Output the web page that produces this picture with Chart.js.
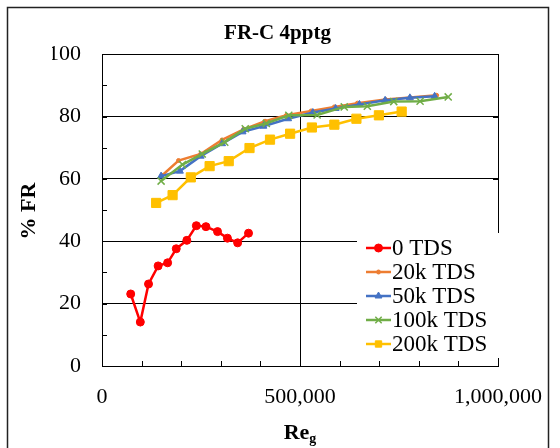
<!DOCTYPE html>
<html>
<head>
<meta charset="utf-8">
<script src="https://cdn.jsdelivr.net/npm/chart.js@4.4.1/dist/chart.umd.min.js"></script>
<style>
  html, body { margin: 0; padding: 0; background: #fff; }
</style>
</head>
<body>
<canvas id="myChart" width="560" height="448"></canvas>
<script>
// Reynolds number (x) and % FR (y) for each TDS level
const re0   = [72500, 96750, 117500, 141750, 165750, 187500, 214250, 238250, 262500, 291750, 316750, 342500, 370000];
const fr0   = [23.1, 14.1, 26.3, 32.1, 33.1, 37.6, 40.3, 45.0, 44.7, 43.1, 41.0, 39.5, 42.6];
const re20  = [151750, 193250, 249250, 303250, 357500, 411750, 465750, 528250, 586750, 645000, 715750, 778250, 845000];
const fr20  = [61.1, 65.9, 68.0, 72.5, 75.9, 78.5, 80.4, 81.8, 83.1, 84.3, 85.5, 86.1, 86.8];
const re50  = [149250, 196750, 249250, 303250, 355000, 407500, 470000, 532500, 590000, 650000, 715000, 777500, 840000];
const fr50  = [60.9, 62.5, 67.3, 71.3, 75.1, 76.9, 79.3, 81.3, 82.6, 83.9, 85.2, 86.0, 86.5];
const re100 = [149250, 203250, 253250, 310000, 361750, 415000, 471750, 543250, 611750, 670000, 736750, 803250, 874250];
const fr100 = [59.3, 64.6, 68.0, 71.8, 76.1, 77.8, 80.4, 80.5, 83.1, 83.3, 84.8, 84.9, 86.3];
const re200 = [136750, 178250, 224250, 271750, 320000, 372500, 424250, 475000, 530000, 586750, 642500, 699250, 756750];
const fr200 = [52.3, 54.8, 60.5, 64.1, 65.7, 69.9, 72.6, 74.5, 76.5, 77.4, 79.3, 80.4, 81.6];

const seriesNames = ['0 TDS', '20k TDS', '50k TDS', '100k TDS', '200k TDS'];
const xTicks = [0, 500000, 1000000];
const yTicks = [0, 20, 40, 60, 80, 100];

const FONT = "'Liberation Serif', 'Times New Roman', serif";

function pts(xs, ys) {
  return xs.map((x, i) => ({ x: x, y: ys[i] }));
}

function series(i, xs, ys, color, style, radius) {
  return {
    label: seriesNames[i],
    data: pts(xs, ys),
    borderColor: color,
    backgroundColor: color,
    borderWidth: 2.5,
    pointStyle: style,
    pointRadius: radius,
    pointBorderWidth: style === 'crossRot' ? 1.5 : 1,
    order: 4 - i
  };
}

// legend, frame, inward tick marks, axis titles
const decor = {
  id: 'decor',
  beforeDraw(chart) {
    const c = chart.ctx;
    c.save();
    c.fillStyle = '#fff';
    c.fillRect(0, 0, chart.width, chart.height);
    c.restore();
  },
  afterDraw(chart) {
    const c = chart.ctx;
    const a = chart.chartArea;
    const xs = chart.scales.x, ys = chart.scales.y;
    c.save();

    // outer frame
    c.strokeStyle = '#222';
    c.lineWidth = 1.5;
    c.strokeRect(7.5, 7.5, 541, 470);

    // plot box
    c.strokeStyle = '#000';
    c.lineWidth = 1;
    c.strokeRect(Math.round(a.left) + 0.5, Math.round(a.top) + 0.5,
                 Math.round(a.right - a.left), Math.round(a.bottom - a.top));

    // inward ticks
    c.beginPath();
    for (let v = 100000; v < 1000000; v += 100000) {
      const px = Math.round(xs.getPixelForValue(v)) + 0.5;
      c.moveTo(px, a.bottom);
      c.lineTo(px, a.bottom - 5);
    }
    for (let v = 10; v < 100; v += 10) {
      const py = Math.round(ys.getPixelForValue(v)) + 0.5;
      c.moveTo(a.left, py);
      c.lineTo(a.left + 5, py);
      if (v % 20 === 0) {
        c.moveTo(a.right, py);
        c.lineTo(a.right - 5, py);
      }
    }
    c.stroke();

    // legend
    c.fillStyle = '#fff';
    c.fillRect(357, 233, 143, 125);
    chart.data.datasets.forEach((ds, i) => {
      const y = 248 + i * 24;
      c.strokeStyle = ds.borderColor;
      c.lineWidth = 2.5;
      c.beginPath();
      c.moveTo(366, y);
      c.lineTo(391, y);
      c.stroke();
      c.fillStyle = ds.backgroundColor;
      c.strokeStyle = ds.borderColor;
      c.lineWidth = ds.pointBorderWidth;
      Chart.helpers.drawPoint(c, {
        pointStyle: ds.pointStyle,
        radius: Math.min(ds.pointRadius, 4.5),
        rotation: 0,
        borderWidth: ds.pointBorderWidth
      }, 378.5, y);
      c.fillStyle = '#000';
      c.font = '23px ' + FONT;
      c.textAlign = 'left';
      c.textBaseline = 'middle';
      c.fillText(ds.label, 392, y + 1);
    });

    // axis titles
    c.fillStyle = '#000';
    c.font = 'bold 22px ' + FONT;
    c.textAlign = 'center';
    c.textBaseline = 'middle';
    c.save();
    c.translate(29, 211);
    c.rotate(-Math.PI / 2);
    c.fillText('% FR', 0, 0);
    c.restore();

    c.textBaseline = 'alphabetic';
    c.textAlign = 'left';
    const reW = c.measureText('Re').width;
    c.font = 'bold 14px ' + FONT;
    const gW = c.measureText('g').width;
    const x0 = (a.left + a.right) / 2 - (reW + gW) / 2;
    c.font = 'bold 22px ' + FONT;
    c.fillText('Re', x0, 439);
    c.font = 'bold 14px ' + FONT;
    c.fillText('g', x0 + reW, 443);

    c.restore();
  }
};

const ctx = document.getElementById('myChart');
const myChart = new Chart(ctx, {
  type: 'line',
  data: {
    datasets: [
      series(0, re0, fr0, '#FF0000', 'circle', 4),
      series(1, re20, fr20, '#ED7D31', 'circle', 2),
      series(2, re50, fr50, '#4472C4', 'triangle', 4),
      series(3, re100, fr100, '#70AD47', 'crossRot', 5),
      series(4, re200, fr200, '#FFC000', 'rect', 6.5)
    ]
  },
  options: {
    responsive: false,
    animation: false,
    layout: { padding: { left: 52, right: 57, top: 13, bottom: 0 } },
    elements: { line: { tension: 0 } },
    plugins: {
      legend: { display: false },
      tooltip: { enabled: false },
      title: {
        display: true,
        text: 'FR-C 4pptg',
        color: '#000',
        font: { family: FONT, size: 21, weight: 'bold' },
        padding: { top: 8, bottom: 8 }
      }
    },
    scales: {
      x: {
        type: 'linear',
        min: 0,
        max: 1000000,
        afterFit: (s) => { s.height = 82; },
        afterBuildTicks: (s) => { s.ticks = xTicks.map(v => ({ value: v })); },
        ticks: {
          autoSkip: false,
          maxRotation: 0,
          padding: 18,
          color: '#000',
          font: { family: FONT, size: 22 },
          callback: (v) => Number(v).toLocaleString('en-US')
        },
        grid: {
          drawTicks: false,
          color: (c) => (c.tick && c.tick.value === 500000) ? '#000' : 'rgba(0,0,0,0)',
          lineWidth: 1
        },
        border: { display: true, color: '#000', width: 1 }
      },
      y: {
        min: 0,
        max: 100,
        afterFit: (s) => { s.width = 50; },
        afterBuildTicks: (s) => { s.ticks = yTicks.map(v => ({ value: v })); },
        ticks: {
          padding: 21,
          color: '#000',
          font: { family: FONT, size: 22 }
        },
        grid: {
          drawTicks: false,
          color: (c) => (c.tick && c.tick.value > 0 && c.tick.value < 100) ? '#000' : 'rgba(0,0,0,0)',
          lineWidth: 1
        },
        border: { display: true, color: '#000', width: 1 }
      }
    }
  },
  plugins: [decor]
});
</script>
</body>
</html>
